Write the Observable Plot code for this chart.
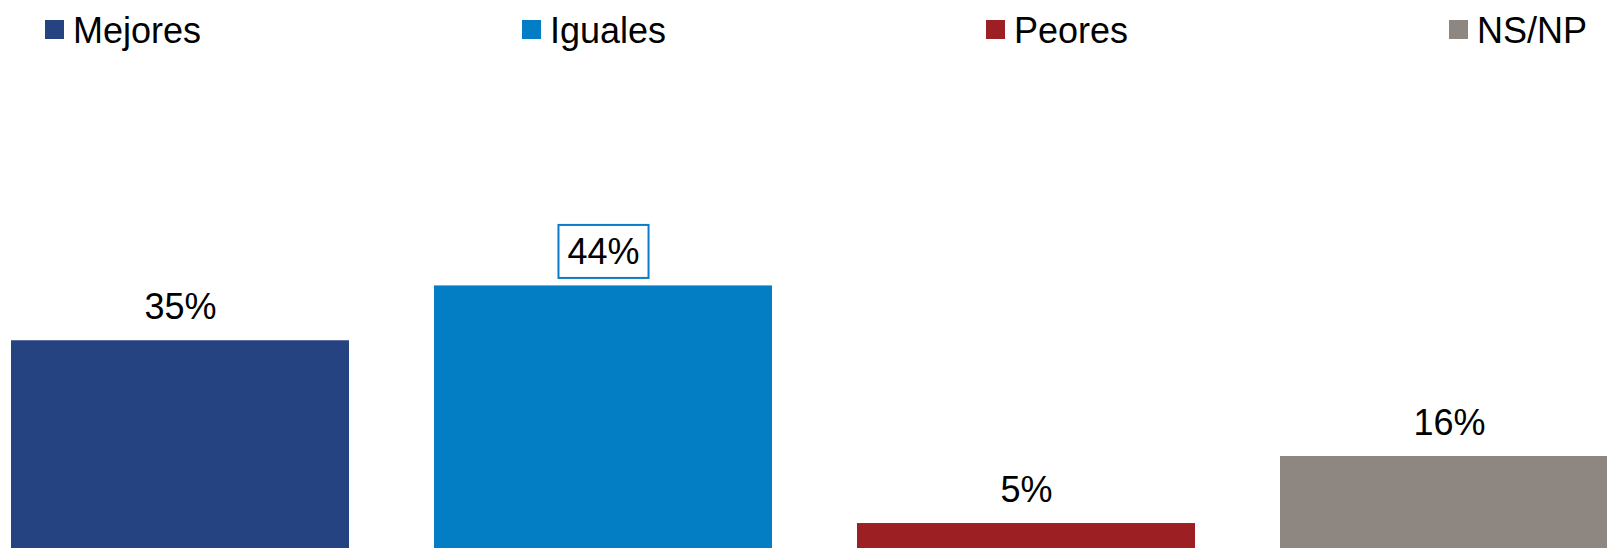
<!DOCTYPE html>
<html>
<head>
<meta charset="utf-8">
<script src="https://cdn.jsdelivr.net/npm/d3@7"></script>
<script src="https://cdn.jsdelivr.net/npm/@observablehq/plot@0.6"></script>
<style>
  html, body { margin: 0; padding: 0; overflow: hidden; background: #fff; width: 1607px; height: 548px; }
  #legend { position: relative; height: 60px; font-family: "Liberation Sans", Arial, sans-serif; }
  .item { position: absolute; top: 0; height: 60px; }
  .sw { position: absolute; top: 20px; left: 0; width: 19px; height: 19px; }
  .lab { position: absolute; top: 13px; left: 28px; font-size: 36px; line-height: 36px; white-space: nowrap; color: #000; }
  #chart { width: 1619px; }
  #chart svg { display: block; }
</style>
</head>
<body>
<div id="legend"></div>
<div id="chart"></div>
<script>
// Data
const categories = ["Mejores", "Iguales", "Peores", "NS/NP"];
const values = [35, 44, 5, 16];
const colors = ["#264381", "#037DC3", "#9C1F24", "#8E8680"];
const highlighted = "Iguales";

const data = categories.map((c, i) => ({category: c, value: values[i], color: colors[i]}));

// Legend (HTML, above the SVG)
const legendX = [45, 522, 986, 1449];
const legend = document.getElementById("legend");
data.forEach((d, i) => {
  const it = document.createElement("div");
  it.className = "item";
  it.style.left = legendX[i] + "px";
  const sw = document.createElement("div");
  sw.className = "sw";
  sw.style.background = d.color;
  const lab = document.createElement("div");
  lab.className = "lab";
  lab.textContent = d.category;
  it.appendChild(sw);
  it.appendChild(lab);
  legend.appendChild(it);
});

const plot = Plot.plot({
  width: 1619,
  height: 494,
  marginLeft: 11,
  marginRight: 0,
  marginTop: 0,
  marginBottom: 0.5,
  style: {fontFamily: "'Liberation Sans', Arial, sans-serif", background: "transparent", overflow: "visible", maxWidth: "none"},
  x: {domain: categories, paddingInner: 0.2, paddingOuter: 0, axis: null},
  y: {domain: [0, 81], axis: null},
  marks: [
    Plot.barY(data, {x: "category", y: "value", fill: "color"}),
    Plot.text(data, {
      x: "category", y: "value",
      text: d => d.value + "%",
      dy: -22, lineAnchor: "bottom",
      fontSize: 36, fill: "#000",
      className: "vlabels"
    })
  ]
});
plot.style.maxWidth = "none";
plot.style.width = "1619px";
plot.style.height = "494px";
document.getElementById("chart").appendChild(plot);

// Box around the highlighted label
const texts = plot.querySelectorAll(".vlabels text");
texts.forEach((t, i) => {
  if (data[i].category !== highlighted) return;
  const bb = t.getBBox();
  const ns = "http://www.w3.org/2000/svg";
  const r = document.createElementNS(ns, "rect");
  const tr = t.getAttribute("transform");
  r.setAttribute("x", bb.x - 9);
  r.setAttribute("y", bb.y - 6);
  r.setAttribute("width", bb.width + 18);
  r.setAttribute("height", bb.height + 12);
  r.setAttribute("fill", "none");
  r.setAttribute("stroke", "#0A7CC6");
  r.setAttribute("stroke-width", 2);
  if (tr) r.setAttribute("transform", tr);
  t.parentNode.insertBefore(r, t);
});
</script>
</body>
</html>
